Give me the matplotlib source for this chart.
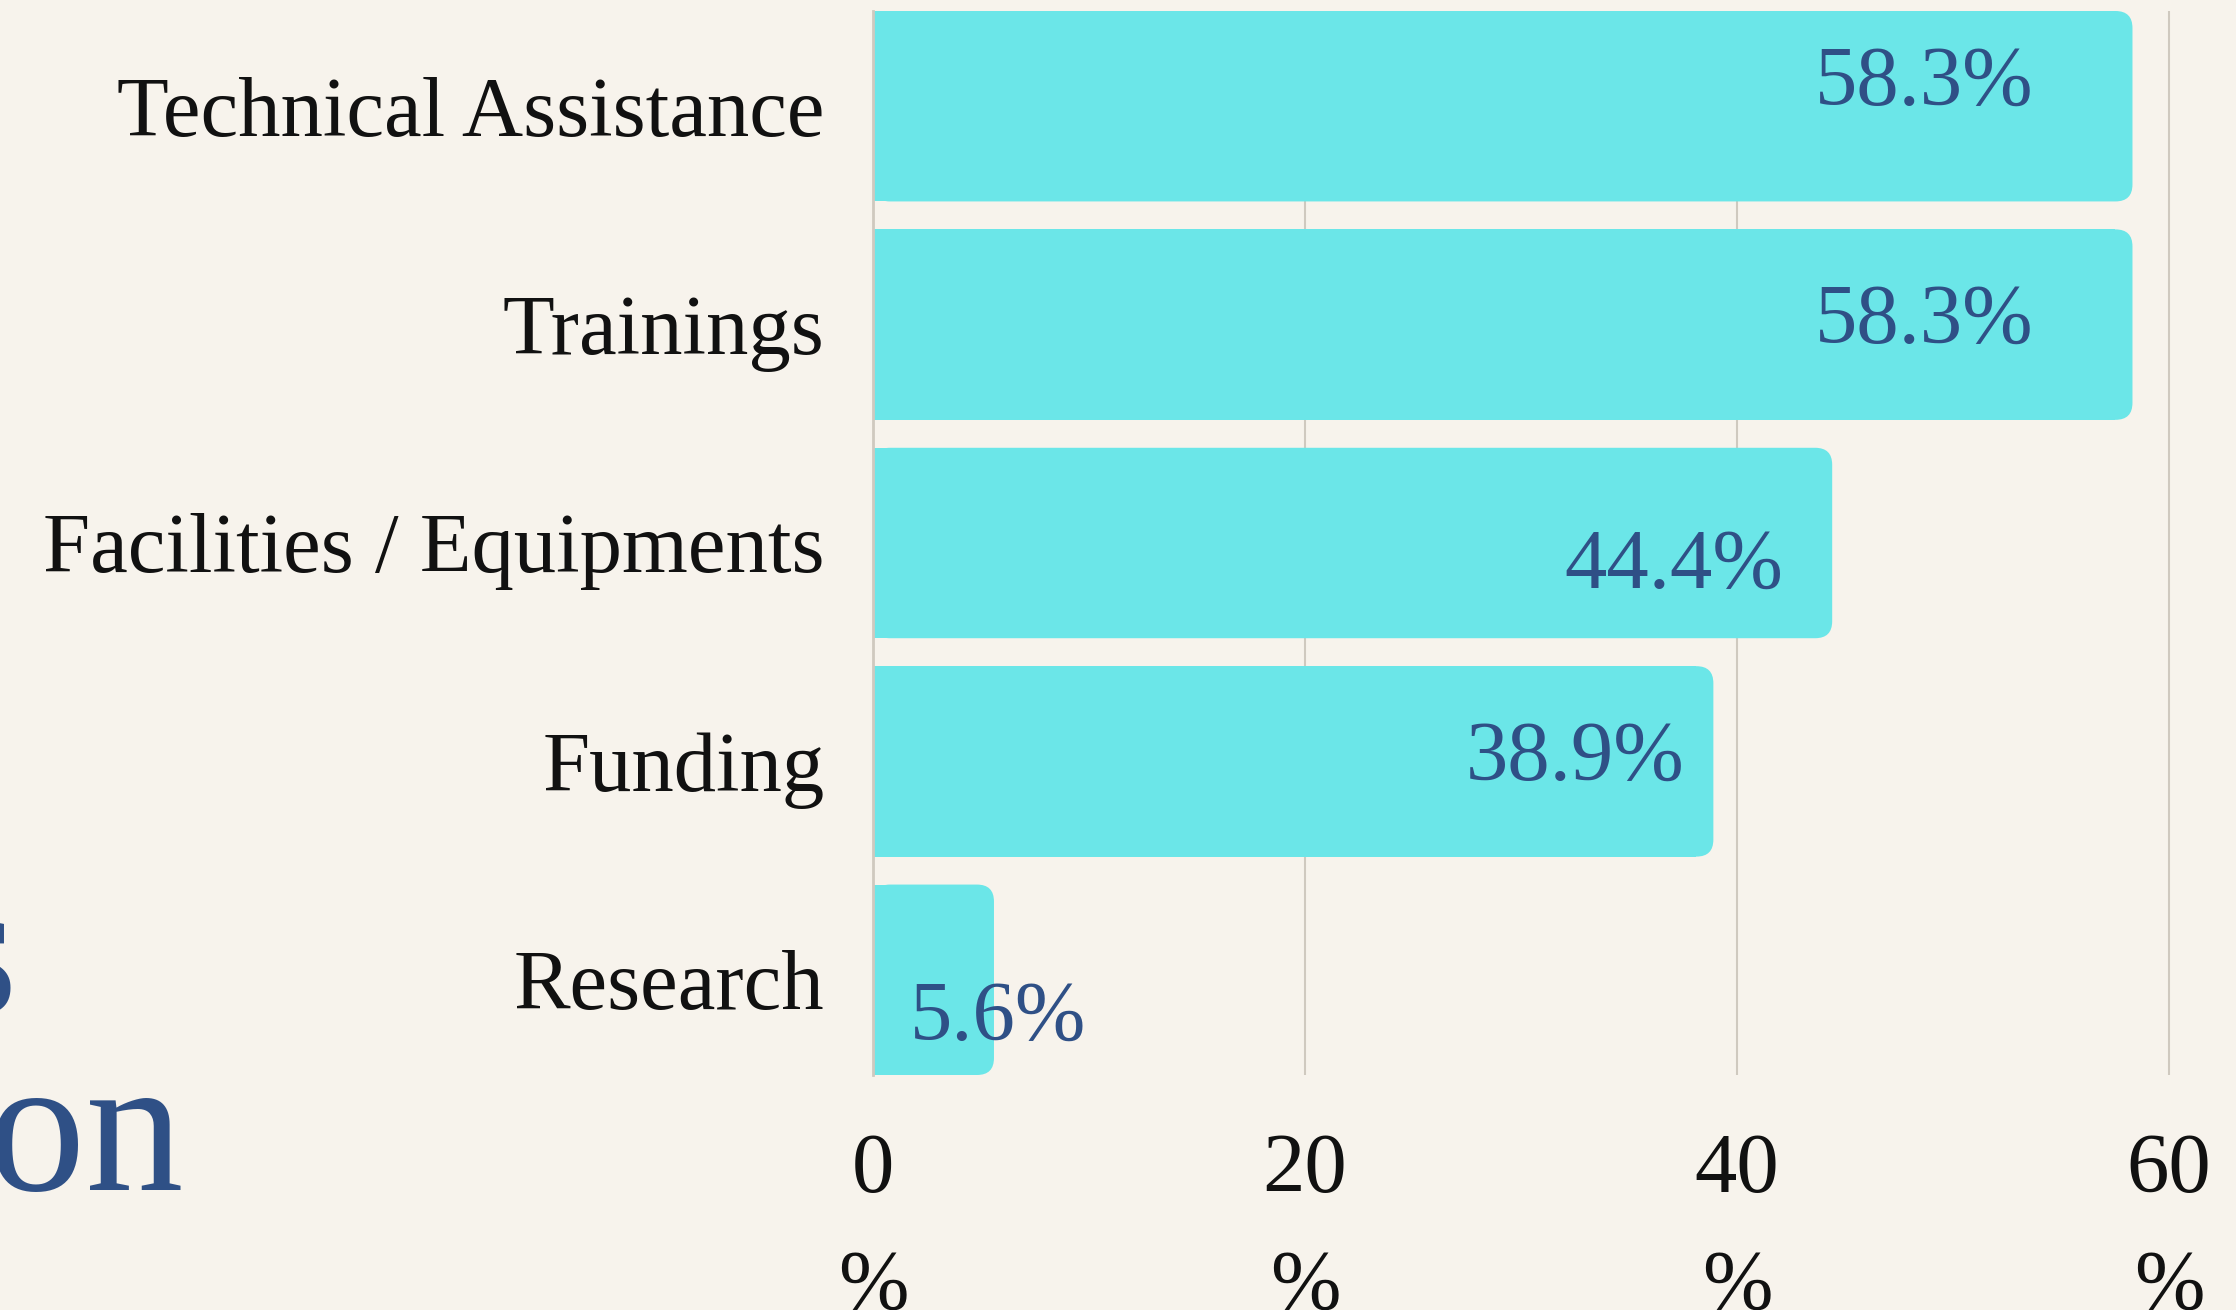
"""Horizontal bar chart: share of organizations asking for each kind of support."""
import matplotlib

matplotlib.use("Agg")
import matplotlib.pyplot as plt
from matplotlib.patches import FancyBboxPatch, Rectangle

OUT_PNG = "out.png"

categories = [
    "Technical Assistance",
    "Trainings",
    "Facilities / Equipments",
    "Funding",
    "Research",
]
shares = [58.3, 58.3, 44.4, 38.9, 5.6]
xticks = [0, 20, 40, 60]
xtick_labels = ["0\n%", "20\n%", "40\n%", "60\n%"]
title_lines = ["Support Needs", "of the Organization"]

BG = "#f7f3ec"
BAR = "#6be6e8"
NAVY = "#2f5086"
GRID = "#cfc9bf"
FONT = "Liberation Serif"
W, H, DPI = 2236, 1310, 100

# small vertical nudges (points) for the value labels, as in the original
label_nudge = [22, 8, -11, 8, -22]


def main():
    plt.rcParams["font.family"] = [FONT, "DejaVu Serif"]
    fig = plt.figure(figsize=(W / DPI, H / DPI), dpi=DPI, facecolor=BG)
    ax = fig.add_axes([873 / W, 1 - 1075 / H, (2180 - 873) / W, (1075 - 11) / H])
    ax.set_facecolor(BG)

    ypos = list(range(len(categories)))
    bars = ax.barh(ypos, shares, height=0.872, color=BAR, zorder=2)
    ax.set_xlim(0, 60.5)
    ax.set_ylim(len(categories) - 1 + 0.436, -0.436)

    # rounded right-hand corners: radius fixed in pixels
    r_px = 17
    p0 = ax.transData.transform((0, 0))
    p1 = ax.transData.transform((1, 1))
    x_per_px = 1 / abs(p1[0] - p0[0])
    y_per_px = 1 / abs(p1[1] - p0[1])
    r = r_px * x_per_px
    aspect = y_per_px / x_per_px
    for b in bars:
        x0, y0, w, h = b.get_x(), b.get_y(), b.get_width(), b.get_height()
        b.set_visible(False)
        ax.add_patch(FancyBboxPatch((x0, y0), w, h,
                                    boxstyle=f"round,pad=0,rounding_size={r}",
                                    mutation_aspect=aspect, fc=BAR, ec="none", zorder=2))
        ax.add_patch(Rectangle((x0, y0), max(w - r, 0), h, fc=BAR, ec="none", zorder=2))

    for i, v in enumerate(shares):
        cx = max(v * 0.835, 5.8)
        ax.annotate(f"{v:.1f}%", (cx, i), xytext=(0, label_nudge[i]),
                    textcoords="offset points", ha="center", va="center_baseline",
                    fontsize=61, color=NAVY, zorder=3)

    ax.set_yticks(ypos)
    ax.set_yticklabels(categories, fontsize=61, color="#111111")
    ax.set_xticks(xticks)
    ax.set_xticklabels(xtick_labels, fontsize=61, color="#111111")
    for t in ax.get_xticklabels():
        t.set_linespacing(1.67)
    ax.tick_params(axis="y", length=0, pad=35)
    ax.tick_params(axis="x", length=0, pad=42)
    ax.grid(axis="x", color=GRID, linewidth=1.5, zorder=0)
    ax.grid(axis="y", visible=False)
    for side in ["top", "right", "bottom"]:
        ax.spines[side].set_visible(False)
    ax.spines["left"].set_color(GRID)
    ax.spines["left"].set_linewidth(2)

    # title block, mostly off-canvas on the left
    fig.text(18 / W, 1 - 1013 / H, title_lines[0], ha="right", va="baseline",
             fontsize=141, color=NAVY)
    fig.text(184 / W, 1 - 1190 / H, title_lines[1], ha="right", va="baseline",
             fontsize=141, color=NAVY)

    fig.savefig(OUT_PNG, dpi=DPI, facecolor=BG)
    plt.close(fig)


if __name__ == "__main__":
    main()
